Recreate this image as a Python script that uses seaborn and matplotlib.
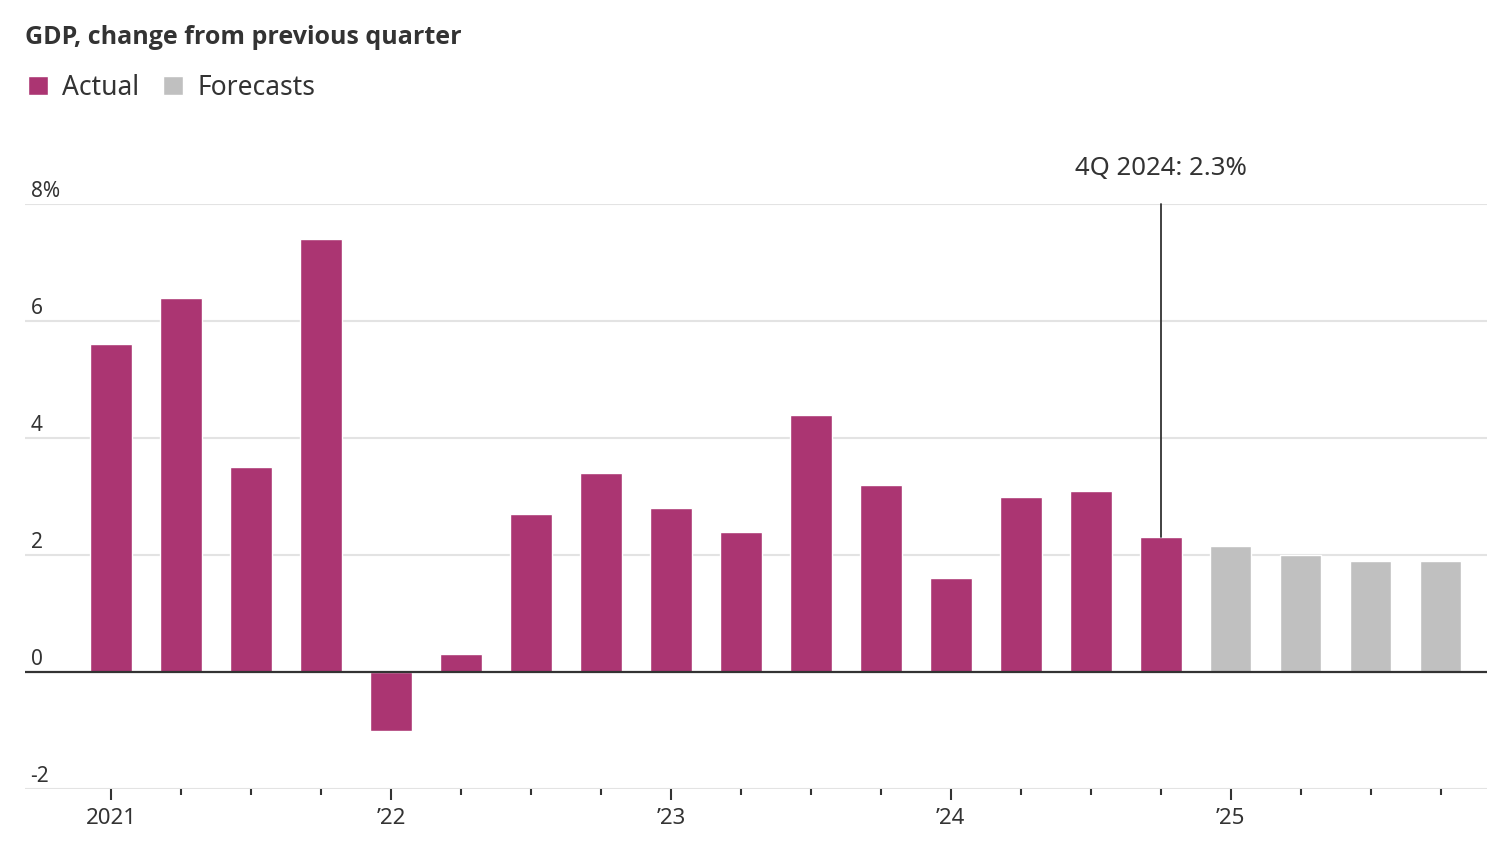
import pandas as pd
import seaborn as sns
import matplotlib.pyplot as plt
from matplotlib.patches import Patch

# quarterly GDP change, annualized (%)
quarters = ['1Q21', '2Q21', '3Q21', '4Q21', '1Q22', '2Q22', '3Q22', '4Q22',
            '1Q23', '2Q23', '3Q23', '4Q23', '1Q24', '2Q24', '3Q24', '4Q24',
            '1Q25', '2Q25', '3Q25', '4Q25']
values = [5.6, 6.4, 3.5, 7.4, -1.0, 0.3, 2.7, 3.4,
          2.8, 2.4, 4.4, 3.2, 1.6, 3.0, 3.1, 2.3,
          2.15, 2.0, 1.9, 1.9]
kind = ['Actual'] * 16 + ['Forecasts'] * 4
year_ticks = [0, 4, 8, 12, 16]
year_labels = ['2021', '\u201922', '\u201923', '\u201924', '\u201925']
y_ticks = [-2, 0, 2, 4, 6, 8]
y_labels = ['-2', '0', '2', '4', '6', '8%']

MAGENTA = '#ab3572'
GREY = '#c0c0c0'
TEXT = '#333333'

sns.set_theme(style='white')
plt.rcParams['font.family'] = ['Noto Sans', 'DejaVu Sans']

data = pd.DataFrame({'quarter': quarters, 'value': values, 'kind': kind})

fig = plt.figure(figsize=(15, 8.5), dpi=100)
ax = fig.add_axes([25 / 1500, 1 - 789 / 850, (1487 - 25) / 1500, (789 - 204) / 850])

sns.barplot(data=data, x='quarter', y='value', hue='kind', order=quarters,
            palette={'Actual': MAGENTA, 'Forecasts': GREY}, dodge=False,
            width=0.59, saturation=1, legend=False, ax=ax)

ax.set_xlim(-1.23, 19.66)
ax.set_ylim(-2, 8)
for s in ax.spines.values():
    s.set_visible(False)

# gridlines
ax.set_axisbelow(True)
for yv in y_ticks:
    if yv == 0:
        continue
    ax.axhline(yv, color='#e3e3e3', lw=1.5, zorder=0)
ax.axhline(0, color=TEXT, lw=1.6, zorder=3)

# y labels sit above the gridlines
ax.set_yticks([])
for yv, lab in zip(y_ticks, y_labels):
    ax.annotate(lab, xy=(0, yv), xycoords=('axes fraction', 'data'),
                xytext=(4, 1.5), textcoords='offset points',
                ha='left', va='bottom', fontsize=15, color=TEXT)

# x ticks
ax.set_xticks(year_ticks)
ax.set_xticklabels(year_labels, fontsize=16, color=TEXT)
ax.set_xticks(range(len(quarters)), minor=True)
ax.tick_params(axis='x', which='major', length=8, width=1.5, color=TEXT,
               pad=6, bottom=True)
ax.tick_params(axis='x', which='minor', length=4, width=1.5, color=TEXT,
               bottom=True)
ax.set_xlabel('')
ax.set_ylabel('')

# annotation for latest actual
ax.plot([15, 15], [2.3, 8], color=TEXT, lw=1.3, zorder=4, clip_on=False)
ax.text(15, 8.6, '4Q 2024: 2.3%', ha='center', va='center', fontsize=18.5,
        color=TEXT)

fig.text(25 / 1500, 1 - 38 / 850, 'GDP, change from previous quarter',
         fontsize=18, fontweight='bold', family=['Open Sans', 'DejaVu Sans'],
         color=TEXT, ha='left', va='center')

handles = [Patch(facecolor=MAGENTA, label='Actual'),
           Patch(facecolor=GREY, label='Forecasts')]
fig.legend(handles=handles, loc='center left',
           bbox_to_anchor=(4 / 1500, 1 - 88 / 850), ncol=2, frameon=False,
           fontsize=19, handlelength=0.75, handleheight=0.75,
           handletextpad=0.55, columnspacing=0.9, labelcolor=TEXT)

fig.savefig('out.png', dpi=100)
